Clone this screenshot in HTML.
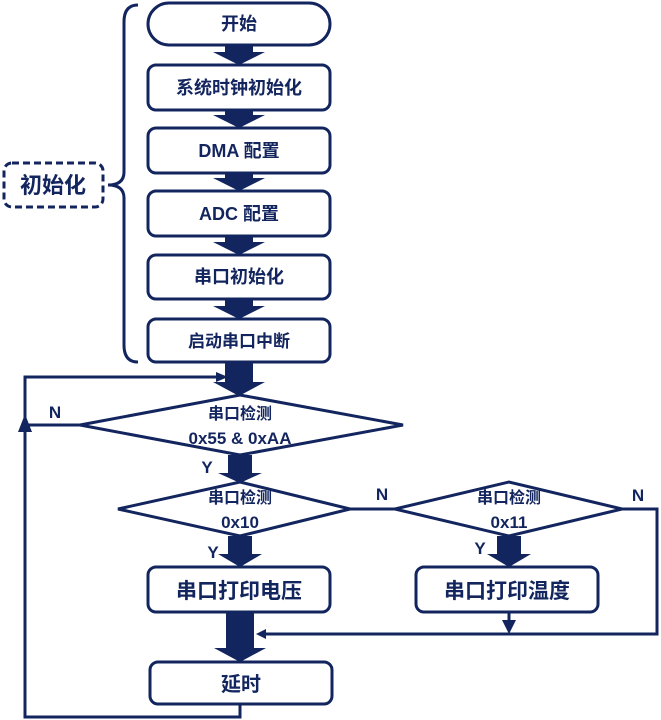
<!DOCTYPE html>
<html><head><meta charset="utf-8"><style>
html,body{margin:0;padding:0;background:#fff;}
svg{display:block}
text{font-family:"Liberation Sans","Noto Sans CJK SC",sans-serif;font-weight:bold;fill:#13255e;text-anchor:middle}
</style></head><body>
<svg width="661" height="720" viewBox="0 0 661 720" xmlns="http://www.w3.org/2000/svg">
<g fill="none" stroke="#13255e" stroke-width="3">
<rect x="148" y="3" width="182" height="42" rx="21"/>
<rect x="148" y="65" width="182" height="45" rx="8"/>
<rect x="148" y="128" width="182" height="45" rx="8"/>
<rect x="148" y="191" width="182" height="45" rx="8"/>
<rect x="148" y="255" width="182" height="44" rx="8"/>
<rect x="148" y="319" width="182" height="43" rx="8"/>
<rect x="4" y="163" width="99" height="44" rx="8" stroke-dasharray="7,4"/>
<path d="M138 5 Q124 5 124 22 L124 172 Q124 185 108 185 Q124 185 124 198 L124 345 Q124 362 138 362"/>
<polygon points="80,425 240,395 403,425 240,455"/>
<polygon points="118,509 240,482 350,509 240,536"/>
<polygon points="395,509 509,482 622,509 509,536"/>
<rect x="148" y="567" width="182" height="45" rx="8"/>
<rect x="416" y="567" width="182" height="45" rx="8"/>
<rect x="150" y="662" width="182" height="42" rx="8"/>
<path d="M350 509 L395 509"/>
<path d="M622 509 L657 509 L657 634 L262 634"/>
<path d="M509 612 L509 622"/>
<path d="M240 704 L240 717 L25 717 L25 430"/>
<path d="M80 425 L25 425"/>
<path d="M25 425 L25 377 L222 377"/>
</g>
<g fill="#13255e">
<polygon points="225,45 253,45 253,52 265,52 239,65 213,52 225,52"/>
<polygon points="225,110 253,110 253,115 265,115 239,128 213,115 225,115"/>
<polygon points="225,173 253,173 253,178 265,178 239,191 213,178 225,178"/>
<polygon points="225,236 253,236 253,242 265,242 239,255 213,242 225,242"/>
<polygon points="225,299 253,299 253,306 265,306 239,319 213,306 225,306"/>
<polygon points="225,362 253,362 253,382 265,382 239,396 213,382 225,382"/>
<polygon points="228,455 252,455 252,473 262,473 240,483 218,473 228,473"/>
<polygon points="228,536 252,536 252,554 262,554 240,567 218,554 228,554"/>
<polygon points="497,536 521,536 521,554 531,554 509,567 487,554 497,554"/>
<polygon points="226,612 254,612 254,648 266,648 240,662 214,648 226,648"/>
<polygon points="502,620 516,620 509,634"/>
<polygon points="18,432 32,432 25,414"/>
<polygon points="216,372 216,382 228,377"/>
<polygon points="266,629 266,639 256,634"/>
</g>
<text x="239" y="30" font-size="18">开始</text>
<text x="239" y="94" font-size="18">系统时钟初始化</text>
<text x="239" y="157" font-size="18">DMA 配置</text>
<text x="239" y="220" font-size="18">ADC 配置</text>
<text x="239" y="283" font-size="18">串口初始化</text>
<text x="239" y="347" font-size="17">启动串口中断</text>
<text x="53" y="193" font-size="22">初始化</text>
<text x="240" y="419" font-size="16">串口检测</text>
<text x="240" y="444" font-size="17" font-family="Liberation Mono">0x55 &amp; 0xAA</text>
<text x="240" y="503" font-size="16">串口检测</text>
<text x="240" y="528" font-size="17" font-family="Liberation Mono">0x10</text>
<text x="509" y="503" font-size="16">串口检测</text>
<text x="509" y="528" font-size="17" font-family="Liberation Mono">0x11</text>
<text x="239" y="598" font-size="21">串口打印电压</text>
<text x="507" y="598" font-size="21">串口打印温度</text>
<text x="241" y="691" font-size="20">延时</text>
<text x="55" y="418" font-size="17" font-weight="normal">N</text>
<text x="207" y="473" font-size="17" font-weight="normal">Y</text>
<text x="382" y="500" font-size="17" font-weight="normal">N</text>
<text x="213" y="558" font-size="17" font-weight="normal">Y</text>
<text x="480" y="554" font-size="17" font-weight="normal">Y</text>
<text x="638" y="501" font-size="17" font-weight="normal">N</text>
</svg>
</body></html>
